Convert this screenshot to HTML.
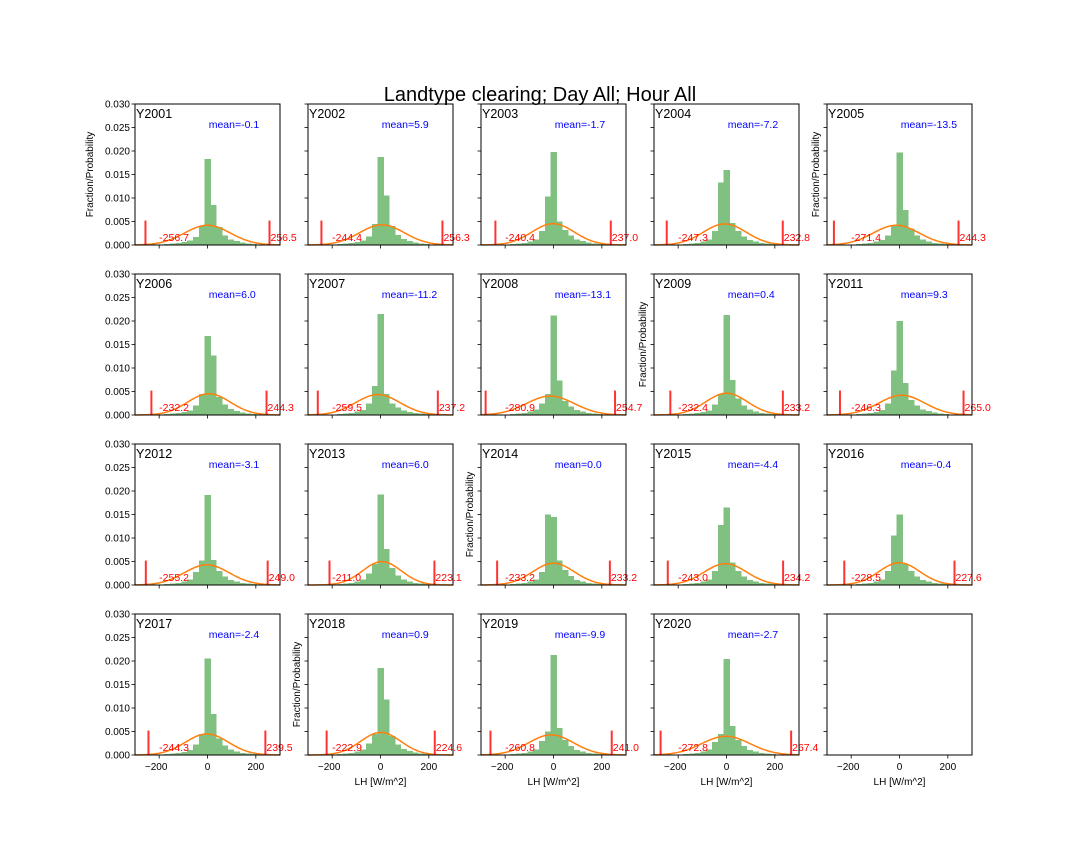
<!DOCTYPE html>
<html><head><meta charset="utf-8">
<style>
html,body{margin:0;padding:0;background:#fff;}
svg{display:block;font-family:"Liberation Sans","DejaVu Sans",sans-serif;}
</style></head>
<body>
<svg id="fig" width="1080" height="864" viewBox="0 0 1080 864">
<text x="540" y="101" text-anchor="middle" font-size="20" fill="#000">Landtype clearing; Day All; Hour All</text>
</svg>
<script>
// ---- chart data ----
const years = ["Y2001","Y2002","Y2003","Y2004","Y2005","Y2006","Y2007","Y2008","Y2009","Y2011","Y2012","Y2013","Y2014","Y2015","Y2016","Y2017","Y2018","Y2019","Y2020"];
const means = [-0.1,5.9,-1.7,-7.2,-13.5,6.0,-11.2,-13.1,0.4,9.3,-3.1,6.0,0.0,-4.4,-0.4,-2.4,0.9,-9.9,-2.7];
const lowBounds = [-256.7,-244.4,-240.4,-247.3,-271.4,-232.2,-259.5,-280.9,-232.4,-246.3,-255.2,-211.0,-233.2,-243.0,-228.5,-244.3,-222.9,-260.8,-272.8];
const highBounds = [256.5,256.3,237.0,232.8,244.3,244.3,237.2,254.7,233.2,265.0,249.0,223.1,233.2,234.2,227.6,239.5,224.6,241.0,267.4];
const sigmas = [95,93,88,89,95,88,92,99,86,95,93,80,86,88,84,89,83,93,100];
// bin centres (W/m^2)
const binCenters = [-192,-168,-144,-120,-96,-72,-48,-24,0,24,48,72,96,120,144,168,192];
const binWidth = 24;
const hist2001 = [.0001,.0002,.0003,.0004,.0006,.0010,.0017,.0040,.0183,.0085,.0038,.0020,.0012,.0008,.0005,.0003,.0002];
const hist2002 = [.0001,.0002,.0003,.0004,.0006,.0010,.0018,.0045,.0187,.0105,.0040,.0021,.0013,.0008,.0005,.0003,.0002];
const hist2003 = [.0001,.0002,.0003,.0004,.0007,.0012,.0030,.0103,.0198,.0050,.0032,.0020,.0012,.0008,.0005,.0003,.0002];
const hist2004 = [.0001,.0002,.0003,.0004,.0007,.0012,.0030,.0133,.0160,.0047,.0030,.0018,.0011,.0007,.0004,.0003,.0002];
const hist2005 = [.0001,.0002,.0003,.0004,.0007,.0011,.0020,.0040,.0197,.0075,.0035,.0020,.0012,.0007,.0004,.0003,.0002];
const hist2006 = [.0001,.0002,.0003,.0004,.0006,.0010,.0020,.0045,.0168,.0127,.0038,.0022,.0013,.0008,.0005,.0003,.0002];
const hist2007 = [.0001,.0002,.0003,.0004,.0007,.0011,.0025,.0062,.0215,.0045,.0025,.0016,.0010,.0006,.0004,.0003,.0002];
const hist2008 = [.0001,.0002,.0003,.0004,.0007,.0012,.0025,.0045,.0212,.0073,.0030,.0018,.0011,.0007,.0004,.0003,.0002];
const hist2009 = [.0001,.0002,.0003,.0004,.0006,.0010,.0022,.0045,.0213,.0075,.0035,.0020,.0012,.0007,.0004,.0003,.0002];
const hist2011 = [.0001,.0002,.0003,.0004,.0006,.0011,.0025,.0095,.0200,.0068,.0032,.0020,.0012,.0008,.0005,.0003,.0002];
const hist2012 = [.0001,.0002,.0003,.0004,.0007,.0012,.0028,.0052,.0192,.0053,.0030,.0018,.0011,.0007,.0004,.0003,.0002];
const hist2013 = [.0001,.0002,.0003,.0004,.0007,.0012,.0025,.0045,.0193,.0077,.0036,.0020,.0012,.0007,.0004,.0003,.0002];
const hist2014 = [.0001,.0002,.0003,.0004,.0007,.0012,.0028,.0150,.0145,.0052,.0032,.0019,.0011,.0007,.0004,.0003,.0002];
const hist2015 = [.0001,.0002,.0003,.0004,.0007,.0012,.0030,.0128,.0165,.0048,.0030,.0018,.0011,.0007,.0004,.0003,.0002];
const hist2016 = [.0001,.0002,.0003,.0004,.0007,.0012,.0030,.0105,.0150,.0045,.0030,.0018,.0011,.0007,.0004,.0003,.0002];
const hist2017 = [.0001,.0002,.0003,.0004,.0006,.0011,.0022,.0045,.0205,.0087,.0035,.0020,.0012,.0007,.0004,.0003,.0002];
const hist2018 = [.0001,.0002,.0003,.0004,.0007,.0012,.0025,.0045,.0185,.0118,.0040,.0022,.0013,.0008,.0005,.0003,.0002];
const hist2019 = [.0001,.0002,.0003,.0004,.0007,.0012,.0030,.0050,.0213,.0057,.0032,.0019,.0011,.0007,.0004,.0003,.0002];
const hist2020 = [.0001,.0002,.0003,.0004,.0007,.0012,.0028,.0045,.0204,.0062,.0032,.0019,.0011,.0007,.0004,.0003,.0002];
const histograms = [hist2001,hist2002,hist2003,hist2004,hist2005,hist2006,hist2007,hist2008,hist2009,hist2011,hist2012,hist2013,hist2014,hist2015,hist2016,hist2017,hist2018,hist2019,hist2020];
const xTicks = [-200,0,200];
const yTicks = [0,0.005,0.010,0.015,0.020,0.025,0.030];
const yTickLabels = ["0.000","0.005","0.010","0.015","0.020","0.025","0.030"];
const ylabelPanels = [0,4,8,12,16];

// ---- layout ----
const NS="http://www.w3.org/2000/svg";
const fig=document.getElementById('fig');
const colLeft=[135,308,481,654,827], rowTop=[104,274,444,614], PW=145, PH=141;
const XMIN=-300,XMAX=300,YMAX=0.03;
function mk(tag,attrs,parent){const e=document.createElementNS(NS,tag);for(const k in attrs)e.setAttribute(k,attrs[k]);parent.appendChild(e);return e;}

for(let p=0;p<20;p++){
  const r=Math.floor(p/5), c=p%5;
  const L=colLeft[c], T=rowTop[r];
  const sx=v=>L+(v-XMIN)/(XMAX-XMIN)*PW;
  const sy=v=>T+PH-v/YMAX*PH;
  const g=mk('g',{},fig);
  
  
  if(p<19){
    const h=histograms[p];
    for(let i=0;i<binCenters.length;i++){
      const x0=sx(binCenters[i]-binWidth/2), x1=sx(binCenters[i]+binWidth/2);
      const b=mk('rect',{x:x0,y:sy(h[i]),width:x1-x0+0.4,height:sy(0)-sy(h[i]),fill:'#80c080','shape-rendering':'crispEdges'},g);
      
      
    }
    let d='';
    for(let v=XMIN;v<=XMAX;v+=5){
      const y=Math.exp(-0.5*((v-means[p])/sigmas[p])**2)/(sigmas[p]*Math.sqrt(2*Math.PI));
      d+=(v===XMIN?'M':'L')+sx(v).toFixed(2)+','+sy(y).toFixed(2);
    }
    const cv=mk('path',{d:d,fill:'none',stroke:'#ff7f0e','stroke-width':1.5},g);
    
    
    [lowBounds[p],highBounds[p]].forEach((bv,j)=>{
      const ln=mk('line',{x1:sx(bv),x2:sx(bv),y1:sy(0),y2:sy(0.0052),stroke:'#ff0000','stroke-width':2,'stroke-opacity':0.8},g);
      
      
      const tx=mk('text',{x:j?sx(bv)+1:sx(-200),y:sy(0.0006)-1,'font-size':10.5,fill:'#ff0000'},g);
      tx.textContent=bv.toFixed(1);
      
      
    });
    const mt=mk('text',{x:sx(5),y:T+24,'font-size':10.5,fill:'#0000ff'},g);
    mt.textContent='mean='+means[p].toFixed(1);
    
    
    const tt=mk('text',{x:L+1,y:T+14,'font-size':12.5,fill:'#000'},g);
    tt.textContent=years[p];
    
    
  }
  const fr=mk('rect',{x:L,y:T,width:PW,height:PH,fill:'none',stroke:'#000','stroke-width':1},g);
  
  
  yTicks.forEach((v,i)=>{
    mk('line',{x1:L-3.5,x2:L,y1:sy(v),y2:sy(v),stroke:'#000','stroke-width':0.8},g);
    if(c===0){
      const t=mk('text',{x:L-5,y:sy(v)+3.5,'font-size':10,'text-anchor':'end',fill:'#000'},g);
      t.textContent=yTickLabels[i];
      
      
    }
  });
  xTicks.forEach(v=>{
    mk('line',{x1:sx(v),x2:sx(v),y1:T+PH,y2:T+PH+3.5,stroke:'#000','stroke-width':0.8},g);
    if(r===3){
      const t=mk('text',{x:sx(v)+(v<0?-3:0),y:T+PH+15,'font-size':10,'text-anchor':'middle',fill:'#000'},g);
      t.textContent=(v<0?'\u2212':'')+Math.abs(v);
      
      
    }
  });
  if(r===3 && c>0){
    const xl=mk('text',{x:L+PW/2,y:T+PH+30,'font-size':10,'text-anchor':'middle',fill:'#000'},g);
    xl.textContent='LH [W/m^2]';
    
    
  }
  if(ylabelPanels.includes(p)){
    const xx=c===0?93:L-8, yy=T+PH/2;
    const yl=mk('text',{x:xx,y:yy,'font-size':10,'text-anchor':'middle',fill:'#000',transform:`rotate(-90 ${xx} ${yy})`},g);
    yl.textContent='Fraction/Probability';
    
    
  }
}
</script>
</body></html>
